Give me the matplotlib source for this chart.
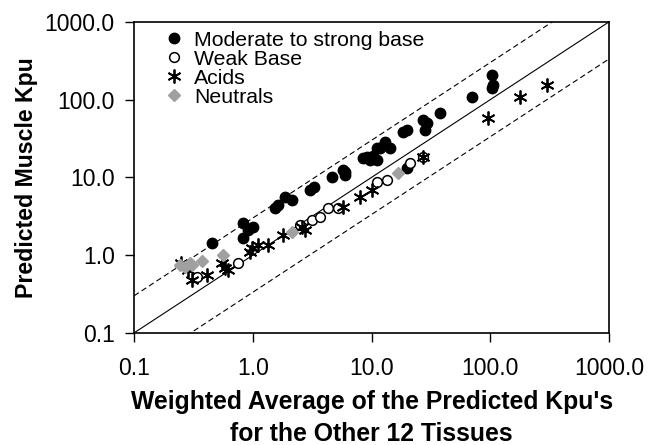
import numpy as np
import matplotlib
matplotlib.use("Agg")
import matplotlib.pyplot as plt
from matplotlib.ticker import FixedLocator, NullLocator

plt.rcParams["font.family"] = ["Liberation Sans", "DejaVu Sans"]

# moderate to strong base
base_x = [0.45, 0.82, 0.83, 0.91, 1.0, 1.54, 1.63, 1.87, 2.15, 3.0, 3.3, 4.6, 5.7, 6.0, 6.0,
          8.5, 9.2, 9.7, 10.3, 11.1, 11.1, 11.8, 13.0, 14.3, 18.4, 19.9, 19.9, 27.2, 28.3,
          29.4, 37.8, 70, 103, 106, 103]
base_y = [1.45, 1.67, 2.6, 2.1, 2.3, 4.05, 4.4, 5.6, 5.1, 6.9, 7.6, 10.1, 12.6, 11.7, 10.8,
          17.8, 18.4, 16.8, 19.0, 16.8, 24, 24, 28.6, 24, 38.5, 40.6, 13.2, 55, 40.6,
          50, 67.6, 108, 208, 155, 142]

# weak base
weak_x = [0.34, 0.75, 2.5, 3.16, 3.7, 4.3, 5.2, 11.1, 13.4, 21, 27.2]
weak_y = [0.52, 0.79, 2.45, 2.84, 3.1, 4.05, 4.05, 8.8, 9.3, 15.3, 18.4]

# acids
acid_x = [0.25, 0.285, 0.31, 0.41, 0.55, 0.58, 0.62, 0.95, 0.98, 1.1, 1.35, 1.8, 2.6, 2.76,
          5.7, 8.0, 10.1, 27.2, 96, 178, 302]
acid_y = [0.79, 0.645, 0.48, 0.56, 0.79, 0.68, 0.65, 1.1, 1.24, 1.35, 1.35, 1.82, 2.3, 2.1,
          4.2, 5.6, 6.9, 18.4, 58, 108, 155]

# neutrals
neut_x = [0.244, 0.27, 0.296, 0.31, 0.37, 0.56, 2.14, 16.7]
neut_y = [0.75, 0.71, 0.79, 0.75, 0.84, 1.0, 2.0, 11.4]

ticks = [0.1, 1.0, 10.0, 100.0, 1000.0]
tick_labels = ["0.1", "1.0", "10.0", "100.0", "1000.0"]

fig = plt.figure(figsize=(6.48, 4.45), dpi=100)
ax = fig.add_axes([0.207, 0.252, 0.733, 0.699])

line_x = np.array([0.1, 1000.0])
ax.plot(line_x, line_x, color="black", lw=0.8)
ax.plot(line_x, line_x * 3, color="black", lw=0.8, ls=(0, (5, 3)))
ax.plot(line_x, line_x / 3, color="black", lw=0.8, ls=(0, (5, 3)))

ax.plot(base_x, base_y, "o", color="black", ms=7.5, ls="none", label="Moderate to strong base")
ax.plot(weak_x, weak_y, "o", mfc="white", mec="black", mew=1.1, ms=7, ls="none", label="Weak Base")
ax.plot(acid_x, acid_y, marker=(6, 2, 0), color="black", mew=1.3, ms=10, ls="none", label="Acids")
ax.plot(neut_x, neut_y, "D", color="#a0a0a0", ms=6.5, ls="none", label="Neutrals")

ax.set_xscale("log")
ax.set_yscale("log")
ax.set_xlim(0.1, 1000)
ax.set_ylim(0.1, 1000)
ax.xaxis.set_major_locator(FixedLocator(ticks))
ax.yaxis.set_major_locator(FixedLocator(ticks))
ax.xaxis.set_minor_locator(NullLocator())
ax.yaxis.set_minor_locator(NullLocator())
ax.set_xticklabels(tick_labels)
ax.set_yticklabels(tick_labels)
ax.tick_params(direction="out", length=6.5, width=1, labelsize=16.5)
ax.tick_params(axis="x", pad=11)
ax.tick_params(axis="y", pad=7.5)
for s in ax.spines.values():
    s.set_linewidth(1.2)

ax.set_xlabel("Weighted Average of the Predicted Kpu's\nfor the Other 12 Tissues",
              fontsize=17.8, fontweight="bold", labelpad=7, linespacing=1.45)
ax.set_ylabel("Predicted Muscle Kpu", fontsize=16.7, fontweight="bold", labelpad=4.5)

ax.legend(loc="upper left", frameon=False, fontsize=15.3, handlelength=0.9,
          handletextpad=0.5, labelspacing=0.0, borderaxespad=0.0,
          bbox_to_anchor=(0.045, 0.998))

fig.savefig("out.png", dpi=100)
